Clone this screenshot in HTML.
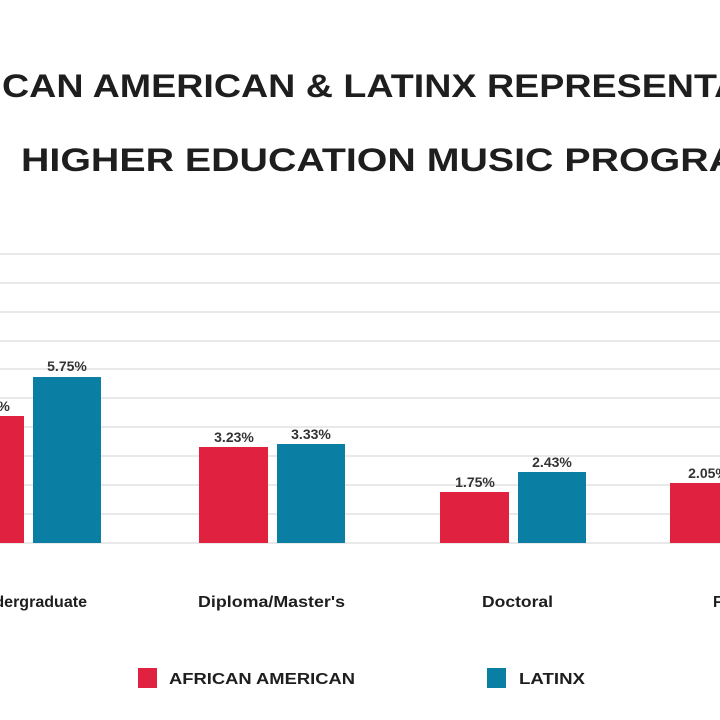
<!DOCTYPE html>
<html><head><meta charset="utf-8"><style>
html,body{margin:0;padding:0;background:#fff;}
svg{display:block;font-family:"Liberation Sans",sans-serif;}
</style></head><body>
<svg width="720" height="720" viewBox="0 0 720 720" xmlns="http://www.w3.org/2000/svg">
<rect width="720" height="720" fill="#fff"/>
<g fill="#1e1e1e" font-weight="bold" font-size="32">
<text x="2" y="97" textLength="770" lengthAdjust="spacingAndGlyphs">CAN AMERICAN &amp; LATINX REPRESENTATI</text>
<text x="21" y="171" textLength="775" lengthAdjust="spacingAndGlyphs">HIGHER EDUCATION MUSIC PROGRAMS</text>
</g>
<g stroke="#e2e2e2" stroke-width="1.5">
<line x1="0" x2="720" y1="254" y2="254"/><line x1="0" x2="720" y1="283" y2="283"/>
<line x1="0" x2="720" y1="312" y2="312"/><line x1="0" x2="720" y1="341" y2="341"/>
<line x1="0" x2="720" y1="369" y2="369"/><line x1="0" x2="720" y1="398" y2="398"/>
<line x1="0" x2="720" y1="427" y2="427"/><line x1="0" x2="720" y1="456" y2="456"/>
<line x1="0" x2="720" y1="485" y2="485"/><line x1="0" x2="720" y1="514" y2="514"/>
<line x1="0" x2="720" y1="543" y2="543"/>
</g>
<g fill="#e0213f">
<rect x="-45" y="416" width="69" height="127"/>
<rect x="199" y="447" width="69" height="96"/>
<rect x="440" y="492" width="69" height="51"/>
<rect x="670" y="483" width="69" height="60"/>
</g>
<g fill="#0b7fa3">
<rect x="33" y="377" width="68" height="166"/>
<rect x="277" y="444" width="68" height="99"/>
<rect x="518" y="472" width="68" height="71"/>
</g>
<g fill="#333" font-weight="bold" font-size="14" text-anchor="middle">
<text x="-10" y="411">3.87%</text>
<text x="67" y="371">5.75%</text>
<text x="234" y="442">3.23%</text>
<text x="311" y="439">3.33%</text>
<text x="475" y="487">1.75%</text>
<text x="552" y="467">2.43%</text>
<text x="708" y="478">2.05%</text>
</g>
<g fill="#1e1e1e" font-size="15.5" font-weight="bold">
<text x="-27" y="607" textLength="114" lengthAdjust="spacingAndGlyphs">Undergraduate</text>
<text x="198" y="607" textLength="147" lengthAdjust="spacingAndGlyphs">Diploma/Master's</text>
<text x="482" y="607" textLength="71" lengthAdjust="spacingAndGlyphs">Doctoral</text>
<text x="713" y="607">Faculty</text>
</g>
<rect x="138" y="668" width="19" height="20" fill="#e0213f"/>
<rect x="487" y="668" width="19" height="20" fill="#0b7fa3"/>
<g fill="#1e1e1e" font-size="15.5" font-weight="bold">
<text x="169" y="684" textLength="186" lengthAdjust="spacingAndGlyphs">AFRICAN AMERICAN</text>
<text x="519" y="684" textLength="66" lengthAdjust="spacingAndGlyphs">LATINX</text>
</g>
</svg>
</body></html>
